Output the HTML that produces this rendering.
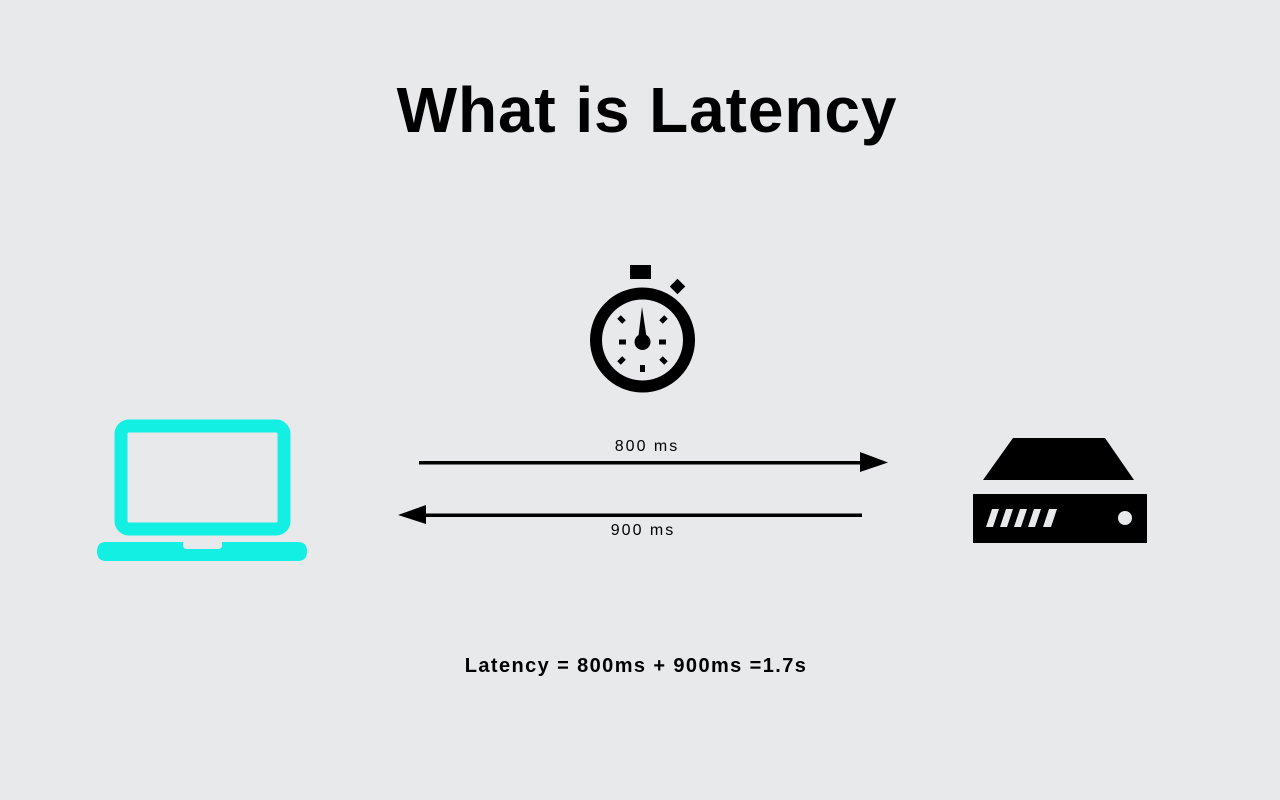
<!DOCTYPE html>
<html><head><style>
html,body{margin:0;padding:0;}
body{width:1280px;height:800px;background:#e8e9eb;position:relative;overflow:hidden;font-family:"Liberation Sans",sans-serif;}
.t{position:absolute;left:0;width:1280px;text-align:center;white-space:nowrap;color:#000;}
</style></head><body>
<div class="t" style="top:72px;left:647px;width:0;"><span style="position:absolute;transform:translateX(-50%);font-size:64px;font-weight:bold;letter-spacing:0.9px;line-height:76px;">What is Latency</span></div>
<div class="t" style="top:438px;left:647px;width:0;"><span style="position:absolute;transform:translateX(-50%);font-size:16px;letter-spacing:2px;">800 ms</span></div>
<div class="t" style="top:522px;left:643px;width:0;"><span style="position:absolute;transform:translateX(-50%);font-size:16px;letter-spacing:2px;">900 ms</span></div>
<div class="t" style="top:655px;left:636px;width:0;"><span style="position:absolute;transform:translateX(-50%);font-size:20px;font-weight:bold;letter-spacing:1.4px;">Latency = 800ms + 900ms =1.7s</span></div>
<svg width="1280" height="800" style="position:absolute;left:0;top:0">
 <rect x="630" y="265" width="21" height="14" fill="#000"/>
 <rect x="672" y="281" width="11" height="11" fill="#000" transform="rotate(45 677.5 286.5)"/>
 <circle cx="642.5" cy="340" r="46.5" fill="none" stroke="#000" stroke-width="12"/>
 <polygon points="642,307 638,340 647,340" fill="#000"/>
 <circle cx="642.5" cy="342" r="8" fill="#000"/>
 <g stroke="#000" stroke-width="5">
  <line x1="619" y1="342" x2="626" y2="342"/><line x1="659" y1="342" x2="666" y2="342"/>
  <line x1="642.5" y1="365" x2="642.5" y2="372"/>
  <line x1="619" y1="317" x2="624" y2="322"/><line x1="666" y1="317" x2="661" y2="322"/>
  <line x1="619" y1="363" x2="624" y2="358"/><line x1="666" y1="363" x2="661" y2="358"/>
 </g>
 <rect x="121" y="426" width="163" height="103" rx="8" fill="none" stroke="#14efe4" stroke-width="13"/>
 <path d="M106 542 H183 V545 Q183 549 187 549 H218 Q222 549 222 545 V542 H298 Q307 542 307 551.5 Q307 561 298 561 H106 Q97 561 97 551.5 Q97 542 106 542 Z" fill="#14efe4"/>
 <rect x="419" y="461" width="443" height="3.5" fill="#000"/>
 <polygon points="860,452 888,462.5 860,472" fill="#000"/>
 <rect x="424" y="513.5" width="438" height="3.5" fill="#000"/>
 <polygon points="426,505 398,515 426,524" fill="#000"/>
 <polygon points="1013,438 1105,438 1134,480 983,480" fill="#000"/>
 <rect x="973" y="494" width="174" height="49" fill="#000"/>
 <g fill="#e8e9eb">
  <polygon points="992,509 999,509 993,527 986,527"/>
  <polygon points="1006,509 1013,509 1007,527 1000,527"/>
  <polygon points="1020,509 1027,509 1021,527 1014,527"/>
  <polygon points="1034,509 1041,509 1035,527 1028,527"/>
  <polygon points="1049,509 1057,509 1051,527 1043,527"/>
  <circle cx="1125" cy="518" r="7"/>
 </g>
</svg>
</body></html>
